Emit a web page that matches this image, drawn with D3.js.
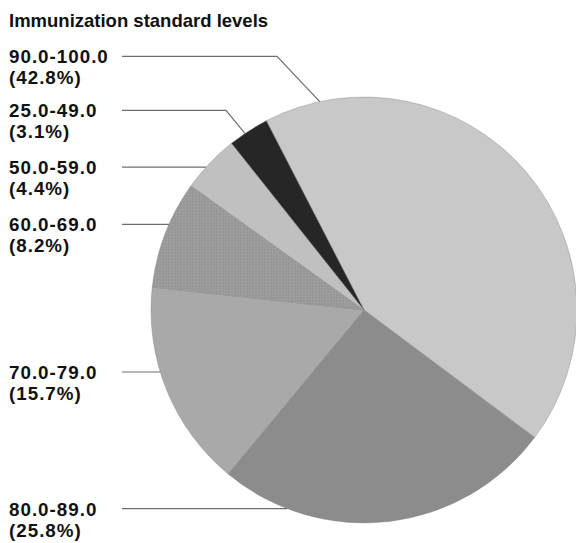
<!DOCTYPE html>
<html>
<head>
<meta charset="utf-8">
<script src="https://cdn.jsdelivr.net/npm/d3@7/dist/d3.min.js"></script>
<style>
  html, body { margin: 0; padding: 0; background: #fff; }
  svg { display: block; }
  text { font-family: "Liberation Sans", Arial, Helvetica, sans-serif; fill: #111; }
</style>
</head>
<body>
<svg id="chart" width="576" height="543"></svg>
<script>
// Immunization standard levels: share of units in each score band
const title = "Immunization standard levels";
const categories = ["90.0-100.0", "80.0-89.0", "70.0-79.0", "60.0-69.0", "50.0-59.0", "25.0-49.0"];
const shares = [42.8, 25.8, 15.7, 8.2, 4.4, 3.1];
const sliceFills = ["#c8c8c8", "#8c8c8c", "#a9a9a9", "#9b9b9b", "#c0c0c0", "#262626"];

// label column, listed top to bottom
const labelOrder = ["90.0-100.0", "25.0-49.0", "50.0-59.0", "60.0-69.0", "70.0-79.0", "80.0-89.0"];

const svg = d3.select("#chart");
const cx = 364, cy = 310, R = 213;
const toRad = d => d * Math.PI / 180;

const rows = categories.map((c, i) => ({ category: c, share: shares[i], fill: sliceFills[i] }));

// faint grain texture for the 60-69 slice
const defs = svg.append("defs");
const pat = defs.append("pattern")
  .attr("id", "dots").attr("width", 3).attr("height", 3)
  .attr("patternUnits", "userSpaceOnUse");
pat.append("rect").attr("width", 3).attr("height", 3).attr("fill", "#989898");
pat.append("circle").attr("cx", 1.5).attr("cy", 1.5).attr("r", 0.7).attr("fill", "#a6a6a6");

const pie = d3.pie()
  .sort(null)
  .value(d => d.share)
  .startAngle(toRad(-27.3))
  .endAngle(toRad(-27.3) + 2 * Math.PI);

const arc = d3.arc().innerRadius(0).outerRadius(R);
const arcs = pie(rows);

const g = svg.append("g").attr("transform", `translate(${cx},${cy})`);
g.selectAll("path")
  .data(arcs)
  .join("path")
  .attr("d", arc)
  .attr("fill", d => d.data.category === "60.0-69.0" ? "url(#dots)" : d.data.fill)
  .attr("stroke", "#808080")
  .attr("stroke-width", 0.4);

// title
svg.append("text")
  .attr("x", 9).attr("y", 26.5)
  .attr("font-size", 18.5)
  .attr("font-weight", "bold")
  .text(title);

// labels with leader lines
const labelX = 9;
const lineStartX = 122;
const lineGap = 21;
const firstBaseline = { "90.0-100.0": 63.3, "25.0-49.0": 117.3, "50.0-59.0": 174.2, "60.0-69.0": 231.3, "70.0-79.0": 379, "80.0-89.0": 515.7 };
// leaders that bend toward the rim: elbow x and rim angle (degrees clockwise from top)
const bends = { "90.0-100.0": { elbowX: 277, angle: -12 }, "25.0-49.0": { elbowX: 226, angle: -34 } };

const byCat = new Map(rows.map(r => [r.category, r]));
const leaders = svg.append("g").attr("fill", "none").attr("stroke", "#6e6e6e").attr("stroke-width", 1.2);

labelOrder.forEach(cat => {
  const r = byCat.get(cat);
  const y0 = firstBaseline[cat];
  const t = svg.append("text").attr("x", labelX).attr("y", y0)
    .attr("font-size", 18.8).attr("font-weight", "bold")
    .attr("letter-spacing", 1.0);
  t.append("tspan").attr("x", labelX).attr("y", y0).text(cat);
  t.append("tspan").attr("x", labelX).attr("y", y0 + lineGap).text(`(${d3.format(".1f")(r.share)}%)`);

  const ly = y0 - 7;
  const b = bends[cat];
  let pts;
  if (b) {
    const a = toRad(b.angle);
    pts = [[lineStartX, ly], [b.elbowX, ly], [cx + R * Math.sin(a), cy - R * Math.cos(a)]];
  } else {
    const dy = ly - cy;
    const ex = cx - Math.sqrt(R * R - dy * dy);
    pts = [[lineStartX, ly], [ex, ly]];
  }
  leaders.append("path").attr("d", d3.line()(pts));
});
</script>
</body>
</html>
